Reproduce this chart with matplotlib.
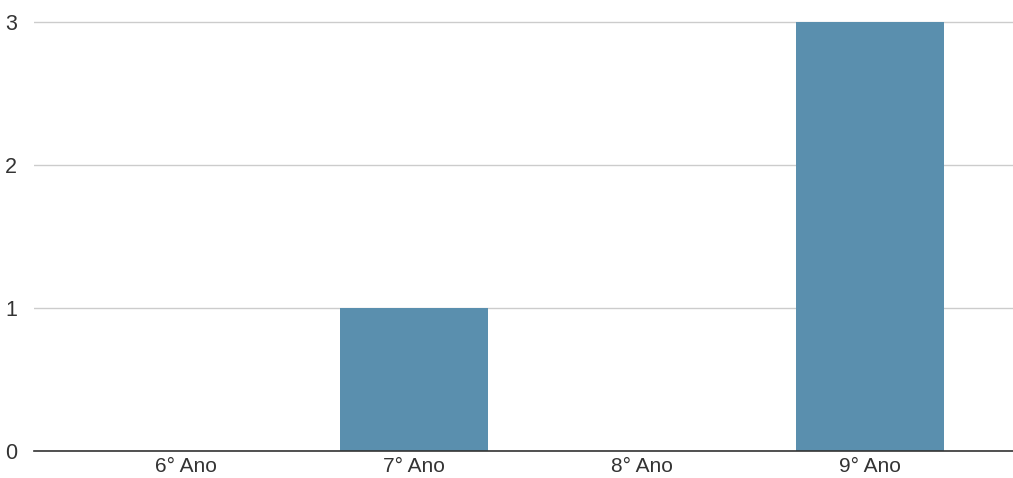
import matplotlib.pyplot as plt

categories = ["6° Ano", "7° Ano", "8° Ano", "9° Ano"]
values = [0, 1, 0, 3]
y_ticks = [0, 1, 2, 3]

plt.rcParams['font.family'] = ['Liberation Sans', 'DejaVu Sans']

fig = plt.figure(figsize=(10.13, 4.78), dpi=100)
ax = fig.add_axes([34 / 1013, 1 - 451 / 478, 1 - 34 / 1013, (451 - 20) / 478])

x = list(range(len(categories)))
ax.bar(x, values, width=0.645, color='#5a8fae', zorder=3)

ax.set_xlim((34 - 186) / 228, (1013 - 186) / 228)
ax.set_ylim(0, 3 * 431 / 429)
ax.set_xticks(x)
ax.set_xticklabels(categories, fontsize=15, color='#333333')
ax.set_yticks(y_ticks)
ax.set_yticklabels([str(t) for t in y_ticks], fontsize=15.5, color='#333333')
ax.tick_params(length=0, pad=4)
ax.tick_params(axis='y', pad=12)

ax.grid(axis='y', color='#cccccc', linewidth=1, zorder=0)
for side in ['top', 'right', 'left']:
    ax.spines[side].set_visible(False)
ax.spines['bottom'].set_color('#333333')
ax.spines['bottom'].set_linewidth(1.2)
ax.spines['bottom'].set_zorder(4)

fig.savefig('out.png', dpi=100)
